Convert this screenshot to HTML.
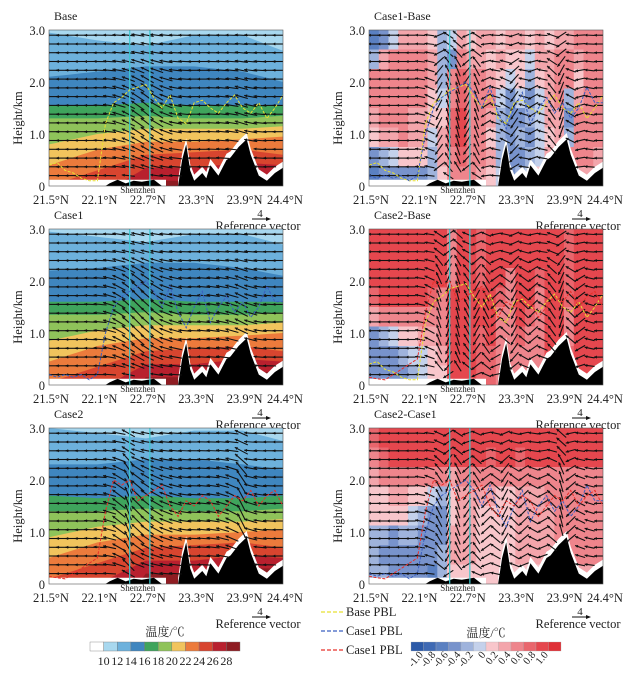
<!DOCTYPE html>
<html><head><meta charset="utf-8">
<style>
html,body{margin:0;padding:0;background:#fff;}
svg text{font-family:"Liberation Serif","Noto Serif CJK SC",serif;fill:#222;}
</style></head>
<body>
<svg id="fig" width="642" height="677" viewBox="0 0 642 677" xmlns="http://www.w3.org/2000/svg"></svg>
<script>
// ---------- data ----------
const latTicks = [21.5, 22.1, 22.7, 23.3, 23.9, 24.4];
const hTicks = [0, 1.0, 2.0, 3.0];
const hTickLabels = ["0", "1.0", "2.0", "3.0"];
const tempLevels = [10, 12, 14, 16, 18, 20, 22, 24, 26, 28];
const tempColors = ["#ffffff","#a8d8ef","#6db1dc","#3f86bf","#3fa45c","#8fc35a","#f1c45d","#ec7b3c","#d8452f","#b8202e","#8e1c22"];
const diffTicks = ["-1.0","-0.8","-0.6","-0.4","-0.2","0","0.2","0.4","0.6","0.8","1.0"];
const diffColors = ["#2c5aa8","#3f6ab4","#5a80c1","#7893cc","#9fb3dc","#c4d1eb","#f8c6cb","#f3a5ab","#ee858c","#e9666d","#e5474e","#df2f36"];
const contourLat = [21.5, 22.1, 22.7, 23.3, 23.9, 24.4];
const baseContours = [
 [2.95,2.8,2.7,2.9,2.9,2.6],[2.1,2.2,2.3,2.3,2.2,2.0],[1.55,1.55,1.6,1.55,1.55,1.55],
 [1.3,1.3,1.35,1.3,1.3,1.35],[0.8,1.0,1.1,1.1,1.1,1.15],[0.4,0.7,0.85,0.85,0.9,0.95],
 [0.0,0.3,0.6,0.65,0.7,0.6],[-1,-0.2,0.35,0.35,0.45,0.4],[-1,-1,0.1,0.1,0.2,0.2]];
const case1Contours = [
 [2.95,2.85,2.75,2.9,2.9,2.7],[2.2,2.25,2.35,2.35,2.25,2.1],[1.6,1.6,1.65,1.6,1.6,1.6],
 [1.35,1.35,1.4,1.35,1.35,1.4],[0.85,1.05,1.15,1.15,1.15,1.2],[0.45,0.75,0.9,0.9,0.95,1.0],
 [0.05,0.35,0.65,0.7,0.75,0.65],[-1,-0.1,0.4,0.4,0.5,0.45],[-1,-1,0.15,0.15,0.25,0.25]];
const case2Contours = [
 [3.0,2.9,2.8,2.95,2.95,2.75],[2.3,2.3,2.4,2.4,2.3,2.2],[1.7,1.65,1.7,1.65,1.65,1.7],
 [1.4,1.4,1.45,1.4,1.4,1.45],[0.9,1.1,1.2,1.2,1.2,1.25],[0.5,0.8,0.95,0.95,1.0,1.05],
 [0.1,0.4,0.7,0.75,0.8,0.7],[-1,0.0,0.45,0.45,0.55,0.5],[-1,-1,0.2,0.2,0.3,0.3]];
const terrainLat = [21.5,22.2,22.25,22.35,22.45,22.55,22.65,22.8,22.9,23.1,23.15,23.2,23.25,23.3,23.4,23.45,23.5,23.6,23.7,23.75,23.85,23.95,24.0,24.1,24.2,24.3,24.4];
const terrainH = [0,0,0.05,0.12,0.05,0.1,0.08,0.12,0,0,0.5,0.8,0.3,0.1,0.25,0.15,0.4,0.2,0.5,0.55,0.75,0.9,0.6,0.2,0.1,0.25,0.35];
const pblLat = [21.5,21.6,21.7,21.8,21.9,22.0,22.1,22.2,22.3,22.4,22.5,22.6,22.7,22.8,22.9,23.0,23.1,23.2,23.3,23.4,23.5,23.6,23.7,23.8,23.9,24.0,24.1,24.2,24.3,24.4];
const basePBL = [0.4,0.45,0.3,0.25,0.15,0.1,0.1,1.2,1.6,1.7,1.85,1.9,1.95,1.7,1.5,1.75,1.3,1.2,1.6,1.65,1.5,1.4,1.6,1.75,1.5,1.4,1.6,1.3,1.5,1.75];
const case1PBL = [0.2,0.15,0.2,0.15,0.2,0.1,0.2,1.0,1.5,1.7,1.8,1.9,2.0,1.8,1.5,1.9,1.4,1.1,1.5,1.8,1.2,1.5,1.7,1.4,1.6,1.3,1.5,1.9,1.6,1.6];
const case2PBL = [0.15,0.12,0.1,0.2,0.3,0.4,0.5,1.4,2.0,1.9,2.0,1.6,1.7,1.8,1.9,1.5,1.3,1.6,1.5,1.7,1.6,1.3,1.5,1.7,1.6,1.8,1.5,1.7,1.8,1.5];
const baseW  = [0,0,0,0,0,0.05,0.15,0.3,0.5,0.7,0.8,0.6,0.4,0.2,0.1,0,0,0.05,0.1,0.15,0.3,0.2,0.1,0,0];
const case1W = [0,0,0,0,0.05,0.1,0.3,0.6,0.9,1.0,0.9,0.7,0.4,0.3,0.1,0.05,0.1,0.15,0.2,0.3,0.5,0.3,0.15,0.05,0];
const case2W = [0,0,0,0,0.05,0.1,0.3,0.8,2.5,1.0,0.8,0.6,0.4,0.3,0.15,0.05,0.1,0.15,0.3,0.5,2.0,0.3,0.15,0.05,0];
const diff1W = [0,0,0,0,0,0.2,0.5,-2,3,4,-2,3,-0.6,0.3,0.6,-1.5,0.3,-0.6,0.3,1.5,-3,0.6,-0.3,0.2,0];
const diff2W = [0,0,0,0,0,0.2,0.6,3,-3,4,2,-2,2,-1,1,-2,1,-1,0.6,1.5,-3,1,-0.8,0.3,0];
const diff3W = [0,0,0,0,0,0.2,0.5,2,-3,3,-1.5,2,-1,1,-2,1,-1,0.6,-0.6,1,4,-1,0.5,0.3,0];
const grid1 = [
 [-.7,-.5,-.1,.3,.3,.3,.2,-.3,-.1,.3,.2,.3,.3,.2,.3,.3,.2,.3,.2,.3,.3,.4,.4,.5],
 [-.3,.3,.4,.5,.5,.4,.3,-.3,-.5,.5,.3,.3,.2,.3,.1,.2,-.1,.3,.3,.4,.4,.3,.5,.5],
 [.4,.5,.6,.6,.5,.5,.3,-.3,.5,.7,.5,.6,.3,.1,-.2,.1,-.3,.2,.3,.5,.4,.2,.5,.6],
 [.4,.5,.6,.6,.5,.4,.2,-.2,.6,.7,.6,.6,.4,-.1,-.4,-.2,-.4,-.1,.3,.4,-.3,.3,.4,.6],
 [.3,.5,.5,.5,.3,.3,.1,.1,.7,.8,.6,.5,.3,-.3,-.5,-.4,-.3,-.2,.3,.3,-.4,.4,.5,.5],
 [.1,.3,.3,.4,.3,.3,-.1,.3,.7,.8,.6,.5,.2,-.3,-.5,-.3,-.4,-.1,.2,.3,-.3,.4,.5,.4],
 [-.5,-.3,-.2,.1,.2,.2,-.3,.3,.6,.7,.5,.4,.3,-.3,-.5,-.4,-.3,-.2,.3,.4,.4,.4,.4,.3],
 [-.7,-.5,-.5,-.5,-.4,-.5,-.3,.2,.5,.6,.4,.3,.2,-.2,-.4,-.3,-.2,.1,.3,.3,.3,.3,.3,.3]];
const grid2 = [
 [.9,.9,.9,.9,.8,.9,.9,.9,.5,.9,.9,.7,.9,.9,.9,.9,.8,.9,.9,.9,.7,.9,.9,.9],
 [.9,.9,.9,.9,.9,.9,.9,.9,.5,.9,.9,.7,.9,.9,.8,.9,.9,.9,.9,.9,.7,.9,.9,.9],
 [.9,.9,.9,.9,.9,.9,.9,.8,.6,.9,.9,.7,.9,.8,.6,.9,.9,.7,.9,.9,.7,.9,.9,.9],
 [.7,.8,.9,.9,.9,.8,.7,.6,.8,.9,.9,.8,.9,.7,.5,.9,.8,.5,.9,.9,.7,.9,.9,.9],
 [.3,.5,.6,.6,.6,.5,.4,.5,.9,.9,.9,.8,.9,.6,.4,.8,.7,.4,.9,.9,.6,.9,.9,.9],
 [-.4,-.3,-.2,.1,.2,.3,.3,.4,.9,.9,.9,.7,.8,.6,.4,.7,.6,.4,.9,.9,.6,.9,.9,.9],
 [-.5,-.5,-.4,-.3,-.2,-.1,.1,.3,.9,.9,.9,.7,.7,.6,.4,.6,.6,.5,.8,.9,.7,.9,.9,.9],
 [-.5,-.5,-.5,-.4,-.3,-.2,.1,.2,.8,.9,.9,.7,.7,.6,.4,.6,.6,.5,.8,.9,.7,.9,.9,.9]];
const grid3 = [
 [.7,.8,.8,.9,.9,.9,.9,.9,.9,.9,.9,.9,.8,.8,.8,.8,.9,.9,.9,.9,.8,.9,.9,.8],
 [.6,.7,.8,.8,.8,.9,.9,.9,.9,.9,.9,.8,.7,.8,.8,.7,.8,.8,.9,.9,.8,.8,.8,.8],
 [.3,.4,.5,.6,.6,.6,.5,.4,.3,.4,.5,.5,.5,.5,.4,.4,.5,.5,.5,.6,.6,.6,.5,.5],
 [.2,.2,.3,.3,.2,.1,-.2,-.3,.1,.3,.3,.3,.3,.2,.2,.3,.3,.3,.4,.5,.5,.4,.4,.4],
 [.1,.1,.1,.1,-.2,-.3,-.4,-.5,.2,.3,.3,.2,.2,.2,.2,.3,.3,.3,.3,.4,.5,.4,.4,.4],
 [-.3,-.3,-.4,-.3,-.3,-.4,-.5,-.4,.3,.3,.3,.2,.2,.2,.2,.3,.3,.3,.3,.4,.4,.4,.4,.4],
 [-.3,-.4,-.4,-.4,-.4,-.5,-.5,-.3,.3,.3,.3,.2,.2,.2,.2,.3,.3,.3,.3,.4,.4,.4,.4,.4],
 [-.3,-.3,-.4,-.4,-.4,-.5,-.6,-.3,.2,.2,.2,.2,.2,.2,.2,.2,.2,.2,.2,.3,.3,.3,.3,.3]];

// ---------- drawing ----------
const NS = "http://www.w3.org/2000/svg";
const svg = document.getElementById("fig");
const PW = 234, PH = 156;
function mk(tag, attrs, parent) {
  const e = document.createElementNS(NS, tag);
  for (const k in attrs) e.setAttribute(k, attrs[k]);
  (parent || svg).appendChild(e);
  return e;
}
function interp(xs, ys, x) {
  if (x <= xs[0]) return ys[0];
  for (let i = 1; i < xs.length; i++) if (x <= xs[i]) {
    const t = (x - xs[i-1]) / (xs[i] - xs[i-1]); return ys[i-1] + t * (ys[i] - ys[i-1]);
  }
  return ys[ys.length - 1];
}
function diffColor(v) {
  let i = Math.floor((v + 1.2) / 0.2); i = Math.max(0, Math.min(11, i)); return diffColors[i];
}

function panel(cfg) {
  const g = mk("g", {});
  
  
  const X = lat => cfg.x0 + (lat - 21.5) / 2.9 * PW;
  const Y = h => cfg.y0 + PH - h / 3 * PH;
  const cp = "clip-" + cfg.name;
  const defs = mk("defs", {}, g);
  const c = mk("clipPath", {id: cp}, defs);
  mk("rect", {x: cfg.x0, y: cfg.y0, width: PW, height: PH}, c);
  const body = mk("g", {"clip-path": "url(#" + cp + ")"}, g);
  if (cfg.contours) {
    const bg = mk("rect", {x: cfg.x0, y: cfg.y0, width: PW, height: PH, fill: tempColors[1]}, body);
    
    
    cfg.contours.forEach((hs, k) => {
      let d = "M" + X(21.5) + "," + Y(0);
      for (let la = 21.5; la <= 24.401; la += 0.1) d += " L" + X(la).toFixed(1) + "," + Y(interp(contourLat, hs, la)).toFixed(1);
      d += " L" + X(24.4) + "," + Y(0) + " Z";
      const p = mk("path", {d: d, fill: tempColors[k + 2]}, body);
      
      
    });
  } else {
    const rows = cfg.grid.length, cols = cfg.grid[0].length;
    cfg.grid.forEach((row, r) => row.forEach((v, ci) => {
      const la0 = 21.5 + 2.9 * ci / cols, h1 = 3 - 3 * r / rows;
      const cell = mk("rect", {x: X(la0).toFixed(1), y: Y(h1).toFixed(1), width: (PW / cols + 0.6).toFixed(2), height: (PH / rows + 0.6).toFixed(2), fill: diffColor(v)}, body);
      
      
    }));
  }
  const ws = mk("rect", {x: cfg.x0, y: Y(0.12), width: X(22.95) - cfg.x0, height: Y(0) - Y(0.12), fill: "#fff"}, body);
  
  
  let td = "M" + X(21.5) + "," + Y(0);
  terrainLat.forEach((la, i) => td += " L" + X(la).toFixed(1) + "," + Y(terrainH[i]).toFixed(1));
  td += " L" + X(24.4) + "," + Y(0) + " Z";
  let wd = "M" + X(23.1) + "," + Y(0);
  terrainLat.forEach((la, i) => { if (la >= 23.1) wd += " L" + X(la).toFixed(1) + "," + Y(terrainH[i] + 0.12).toFixed(1); });
  wd += " L" + X(24.4) + "," + Y(0) + " Z";
  const tw = mk("path", {d: wd, fill: "#fff"}, body);
  
  
  const tp = mk("path", {d: td, fill: "#000"}, body);
  
  
  // arrows
  const nC = cfg.w.length, nR = 17;
  const L = cfg.contours ? 13 : 10;
  for (let r = 0; r < nR; r++) {
    const h = 0.2 + r * 2.7 / (nR - 1);
    const prof = Math.sin(Math.PI * Math.min(h, 2.6) / 2.8);
    for (let ci = 0; ci < nC; ci++) {
      const la = 21.55 + ci * 2.8 / (nC - 1);
      if (h < interp(terrainLat, terrainH, la) + 0.12) continue;
      const u = -1, w = cfg.w[ci] * prof;
      const m = Math.hypot(u, w);
      const sc = Math.min(1.3, m);
      const dx = L * u / m * sc, dy = -L * w / m * sc;
      const x1 = X(la) - dx / 2, y1 = Y(h) - dy / 2, x2 = X(la) + dx / 2, y2 = Y(h) + dy / 2;
      const a = mk("line", {x1: x1.toFixed(1), y1: y1.toFixed(1), x2: x2.toFixed(1), y2: y2.toFixed(1), stroke: "#111", "stroke-width": 1.1}, body);
      
      
      const ang = Math.atan2(y2 - y1, x2 - x1), s = 3.2;
      const hp = [x2, y2, x2 - s * Math.cos(ang - 0.5), y2 - s * Math.sin(ang - 0.5), x2 - s * Math.cos(ang + 0.5), y2 - s * Math.sin(ang + 0.5)].map(v => v.toFixed(1));
      const hd = mk("polygon", {points: hp[0]+","+hp[1]+" "+hp[2]+","+hp[3]+" "+hp[4]+","+hp[5], fill: "#111"}, body);
      
      
    }
  }
  [22.5, 22.75].forEach(la => {
    const l = mk("line", {x1: X(la), y1: cfg.y0, x2: X(la), y2: cfg.y0 + PH, stroke: "#3cc8d0", "stroke-width": 1.2}, body);
    
    
  });
  cfg.pbl.forEach(([arr, col, nm]) => {
    let d = "";
    pblLat.forEach((la, i) => d += (i ? " L" : "M") + X(la).toFixed(1) + "," + Y(arr[i]).toFixed(1));
    const p = mk("path", {d: d, fill: "none", stroke: col, "stroke-width": 1, "stroke-dasharray": "3,1.5"}, body);
    
    
  });
  const fr = mk("rect", {x: cfg.x0, y: cfg.y0, width: PW, height: PH, fill: "none", stroke: "#555", "stroke-width": 0.6}, g);
  
  
  const t = mk("text", {x: cfg.x0 + 5, y: cfg.y0 - 10, "font-size": 12}, g);
  t.textContent = cfg.title;
  
  
  hTicks.forEach((h, i) => {
    const tt = mk("text", {x: cfg.x0 - 4, y: Y(h) + 5, "font-size": 12.5, "text-anchor": "end"}, g);
    tt.textContent = hTickLabels[i];
    
    
  });
  const yl = mk("text", {x: 0, y: 0, "font-size": 12.5, "text-anchor": "middle", transform: "translate(" + (cfg.x0 - 27) + "," + (cfg.y0 + PH / 2 + 10) + ") rotate(-90)"}, g);
  yl.textContent = "Height/km";
  
  
  latTicks.forEach(la => {
    const tt = mk("text", {x: X(la) + 2, y: cfg.y0 + PH + 18, "font-size": 12.5, "text-anchor": "middle"}, g);
    tt.textContent = la.toFixed(1) + "°N";
    
    
  });
  const sz = mk("text", {x: X(22.6), y: cfg.y0 + PH + 7, "font-size": 9, "text-anchor": "middle"}, g);
  sz.textContent = "Shenzhen";
  
  
  const r4 = mk("text", {x: cfg.x0 + 211, y: cfg.y0 + PH + 31, "font-size": 11, "text-anchor": "middle"}, g);
  r4.textContent = "4";
  
  
  const ra = mk("line", {x1: cfg.x0 + 203, y1: cfg.y0 + PH + 33, x2: cfg.x0 + 220, y2: cfg.y0 + PH + 33, stroke: "#111", "stroke-width": 1}, g);
  
  
  const rh = mk("polygon", {points: (cfg.x0+222)+","+(cfg.y0+PH+33)+" "+(cfg.x0+217)+","+(cfg.y0+PH+31)+" "+(cfg.x0+217)+","+(cfg.y0+PH+35), fill: "#111"}, g);
  
  
  const rt = mk("text", {x: cfg.x0 + 209, y: cfg.y0 + PH + 44, "font-size": 12.5, "text-anchor": "middle"}, g);
  rt.textContent = "Reference vector";
  
  
}

const Y0 = [30, 229, 428];
panel({name: "base-panel", title: "Base", x0: 49, y0: Y0[0], contours: baseContours, w: baseW, pbl: [[basePBL, "#e8e030", "base-pbl-line"]]});
panel({name: "case1-panel", title: "Case1", x0: 49, y0: Y0[1], contours: case1Contours, w: case1W, pbl: [[case1PBL, "#3b5fc0", "case1-pbl-line"]]});
panel({name: "case2-panel", title: "Case2", x0: 49, y0: Y0[2], contours: case2Contours, w: case2W, pbl: [[case2PBL, "#e8302a", "case2-pbl-line"]]});
panel({name: "case1-base-panel", title: "Case1-Base", x0: 369, y0: Y0[0], grid: grid1, w: diff1W, pbl: [[basePBL, "#e8e030", "base-pbl-line"], [case1PBL, "#3b5fc0", "case1-pbl-line"]]});
panel({name: "case2-base-panel", title: "Case2-Base", x0: 369, y0: Y0[1], grid: grid2, w: diff2W, pbl: [[basePBL, "#e8e030", "base-pbl-line"], [case2PBL, "#e8302a", "case2-pbl-line"]]});
panel({name: "case2-case1-panel", title: "Case2-Case1", x0: 369, y0: Y0[2], grid: grid3, w: diff3W, pbl: [[case1PBL, "#3b5fc0", "case1-pbl-line"], [case2PBL, "#e8302a", "case2-pbl-line"]]});

(function () {
  const x0 = 90, y0 = 642, cw = 150 / 11, ch = 9;
  const tt = mk("text", {x: 165, y: 636, "font-size": 12, "text-anchor": "middle"});
  tt.textContent = "温度/℃";
  
  
  tempColors.forEach((c, i) => {
    const r = mk("rect", {x: x0 + i * cw, y: y0, width: cw, height: ch, fill: c, stroke: "#777", "stroke-width": 0.4});
    
    
  });
  tempLevels.forEach((v, i) => {
    const t = mk("text", {x: x0 + (i + 1) * cw, y: y0 + 23, "font-size": 12, "text-anchor": "middle"});
    t.textContent = v;
    
    
  });
})();
(function () {
  const x0 = 411, y0 = 642, cw = 150 / 12, ch = 9;
  const tt = mk("text", {x: 486, y: 637, "font-size": 12, "text-anchor": "middle"});
  tt.textContent = "温度/℃";
  
  
  diffColors.forEach((c, i) => {
    const r = mk("rect", {x: x0 + i * cw, y: y0, width: cw, height: ch, fill: c, stroke: "#aaa", "stroke-width": 0.3});
    
    
  });
  diffTicks.forEach((v, i) => {
    const px = x0 + (i + 1) * cw, py = y0 + 13;
    const t = mk("text", {x: px, y: py, "font-size": 10.5, "text-anchor": "end", transform: "rotate(-50 " + px + " " + py + ")"});
    t.textContent = v;
    
    
  });
})();
[["Base PBL", "#e8e030", 612], ["Case1 PBL", "#3b5fc0", 631], ["Case1 PBL", "#e8302a", 650]].forEach(([lab, col, y]) => {
  const l = mk("line", {x1: 321, y1: y, x2: 344, y2: y, stroke: col, "stroke-width": 1.2, "stroke-dasharray": "4,2"});
  
  
  const t = mk("text", {x: 346, y: y + 4, "font-size": 12.5});
  t.textContent = lab;
  
  
});
</script>
</body></html>
